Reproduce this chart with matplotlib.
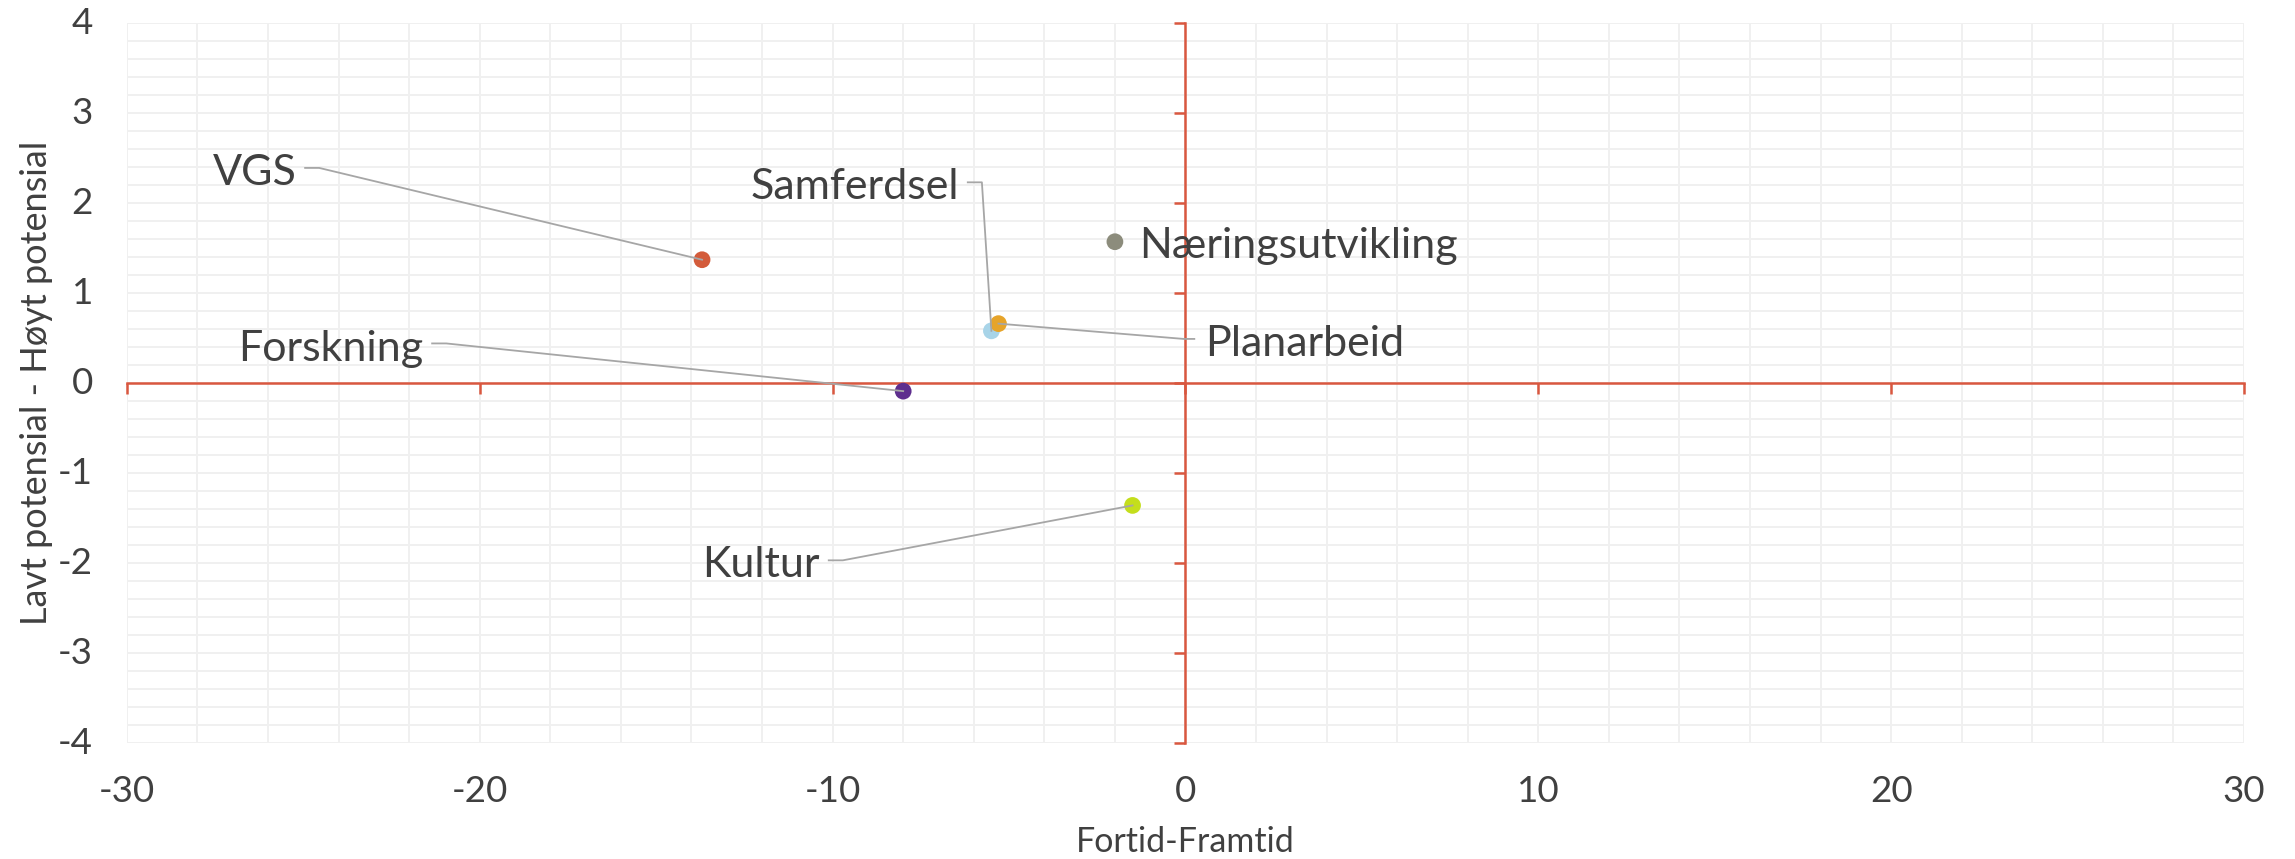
import numpy as np
import matplotlib
matplotlib.use('Agg')
from matplotlib import pyplot as plt

plt.rcParams['font.family'] = ['Lato', 'DejaVu Sans']

# data
names = ['VGS', 'Næringsutvikling', 'Samferdsel', 'Planarbeid', 'Forskning', 'Kultur']
past_future = [-13.7, -2.0, -5.5, -5.3, -8.0, -1.5]
potential = [1.37, 1.57, 0.58, 0.66, -0.09, -1.36]
colors = ['#D35B3A', '#8C8C7C', '#A8D4E8', '#E6A42A', '#5E2E8E', '#C4DE1C']

x_ticks = [-30, -20, -10, 0, 10, 20, 30]
y_ticks = [-4, -3, -2, -1, 0, 1, 2, 3, 4]

# label placement (data coords of text baseline anchor) and leader flag
label_x = [-25.2, -1.3, -6.42, 0.55, -21.6, -10.36]
label_y = [2.20, 1.39, 2.04, 0.30, 0.25, -2.16]
label_ha = ['right', 'left', 'right', 'left', 'right', 'right']
leader = [True, False, True, True, True, True]

text_col = '#404040'
axis_col = '#D9573F'
grid_col = '#F0F0F0'

fig = plt.figure(figsize=(22.95, 8.59), dpi=100)
ax = fig.add_axes([0.0553, 0.135, 0.9225, 0.8382])

ax.set_xlim(-30, 30)
ax.set_ylim(-4, 4)
ax.set_xticks(np.arange(-30, 31, 10))
ax.set_xticks(np.arange(-30, 31, 2), minor=True)
ax.set_yticks(np.arange(-4, 4.01, 1))
ax.set_yticks(np.arange(-4, 4.01, 0.2), minor=True)
ax.grid(which='both', color=grid_col, lw=1.4, zorder=0)
ax.set_axisbelow(True)

# axes crossing at zero
for s in ['top', 'right']:
    ax.spines[s].set_visible(False)
ax.spines['left'].set_position('zero')
ax.spines['bottom'].set_position('zero')
ax.spines['left'].set_color(axis_col)
ax.spines['bottom'].set_color(axis_col)
ax.spines['left'].set_linewidth(1.8)
ax.spines['bottom'].set_linewidth(1.8)
ax.tick_params(which='major', direction='out', color=axis_col, width=1.8,
               length=8, labelleft=False, labelbottom=False)
ax.tick_params(which='minor', length=0)

# tick labels at the outer edges
for v in y_ticks:
    ax.text(-0.016, v, str(v), transform=ax.get_yaxis_transform(),
            ha='right', va='center', fontsize=26.5, color=text_col)
for v in x_ticks:
    ax.text(v, -0.068, str(v), transform=ax.get_xaxis_transform(),
            ha='center', va='center', fontsize=26.5, color=text_col)

ax.scatter(past_future, potential, s=145, c=colors, zorder=3, linewidths=0)

for i, name in enumerate(names):
    ax.text(label_x[i], label_y[i], name, ha=label_ha[i], va='baseline',
            fontsize=31, color=text_col, zorder=5)
    if leader[i]:
        ly = label_y[i] + 0.19
        if label_ha[i] == 'right':
            x0 = label_x[i] + 0.25
            x1 = x0 + 0.4
        else:
            x0 = label_x[i] - 0.3
            x1 = x0 - 0.3
        ax.plot([x0, x1, past_future[i]], [ly, ly, potential[i]],
                color='#A6A6A6', lw=1.3, zorder=4)

fig.text(0.5164, 0.0198, 'Fortid-Framtid', ha='center', va='center',
         fontsize=24.5, color=text_col)
fig.text(0.0161, 0.554, 'Lavt potensial - Høyt potensial', ha='center',
         va='center', rotation=90, fontsize=26, color=text_col)

plt.savefig('out.png', dpi=100)
plt.close()
